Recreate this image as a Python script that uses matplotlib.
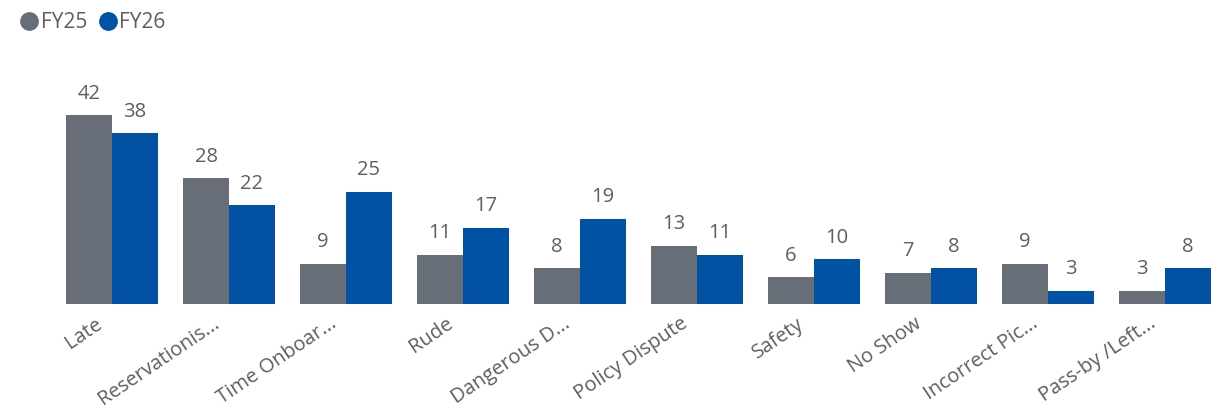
import numpy as np
from matplotlib import pyplot as plt
from matplotlib.transforms import ScaledTranslation

plt.rcParams['font.family'] = ['Open Sans', 'DejaVu Sans']

categories = ['Late', 'Reservationis...', 'Time Onboar...', 'Rude', 'Dangerous D...',
              'Policy Dispute', 'Safety', 'No Show', 'Incorrect Pic...', 'Pass-by /Left...']
fy25 = [42, 28, 9, 11, 8, 13, 6, 7, 9, 3]
fy26 = [38, 22, 25, 17, 19, 11, 10, 8, 3, 8]

grey = '#686E77'
blue = '#0152A5'
text_col = '#605E5C'

fig = plt.figure(figsize=(12.23, 4.17), dpi=100)
ax = fig.add_axes([53.5 / 1223, 113 / 417, 1170 / 1223, 202.5 / 417])

x = np.arange(len(categories))
w = 0.393
b1 = ax.bar(x - w / 2, fy25, w, color=grey, label='FY25')
b2 = ax.bar(x + w / 2, fy26, w, color=blue, label='FY26')

# value labels above each bar
for bars in (b1, b2):
    ax.bar_label(bars, padding=8, fontsize=14.5, color=text_col, clip_on=False)

ax.set_xlim(-0.5, len(categories) - 0.5)
ax.set_ylim(0, 45)
ax.set_yticks([])
ax.set_xticks(x)
ax.set_xticklabels(categories, rotation=34, ha='right', rotation_mode='anchor',
                   fontsize=14.5, color=text_col)
ax.tick_params(axis='x', length=0, pad=7)
# nudge the slanted labels a little to the left
shift = ScaledTranslation(-17 / 100, 0, fig.dpi_scale_trans)
for lab in ax.get_xticklabels():
    lab.set_transform(lab.get_transform() + shift)
for s in ax.spines.values():
    s.set_visible(False)

# legend with round markers at the top left
handles = [plt.Line2D([], [], marker='o', ls='', color=grey, markersize=12.5),
           plt.Line2D([], [], marker='o', ls='', color=blue, markersize=12.5)]
fig.legend(handles, ['FY25', 'FY26'], loc='upper left', bbox_to_anchor=(0.0, 1.015),
           ncol=2, frameon=False, fontsize=15, labelcolor=text_col,
           handletextpad=0.05, columnspacing=0.5, handlelength=1.0)

fig.savefig('out.png', dpi=100)
